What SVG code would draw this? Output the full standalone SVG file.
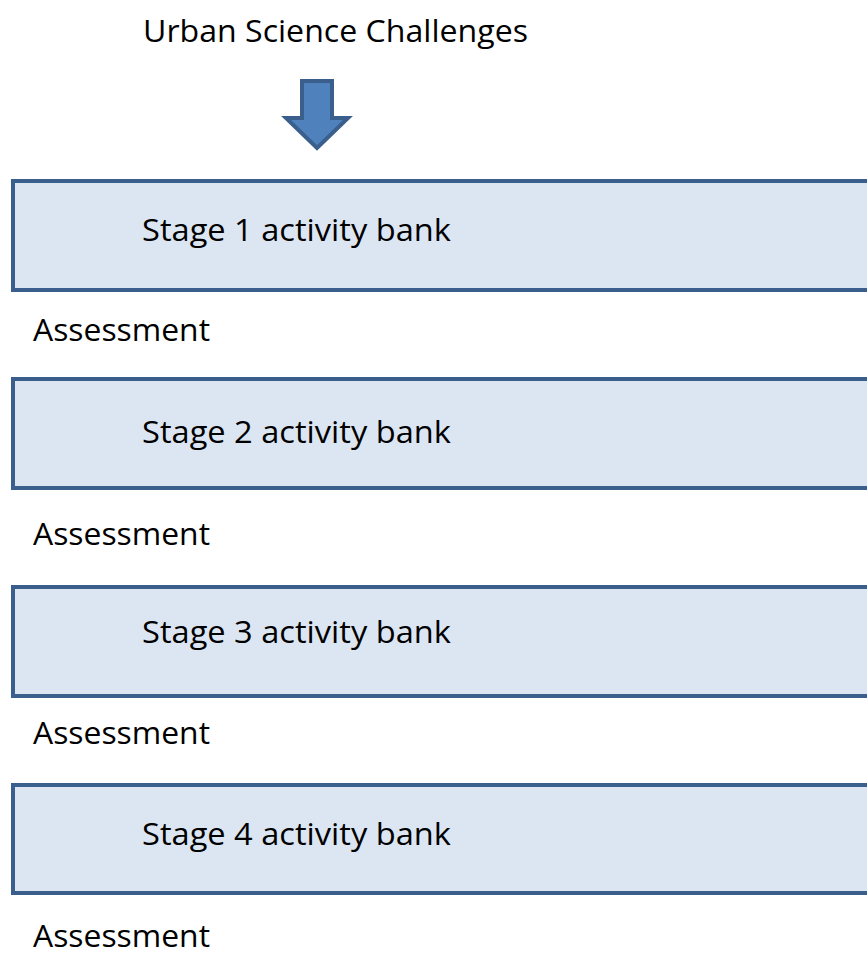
<svg xmlns="http://www.w3.org/2000/svg" width="867" height="954" viewBox="0 0 867 954">
<style>
.box{fill:#DCE6F2;stroke:#3B5F8C;stroke-width:4}
.t{font-family:"Open Sans","Liberation Sans",sans-serif;font-size:31px;fill:#000}
.arrow{fill:#4F81BD;stroke:#3B5F8C;stroke-width:4;stroke-linejoin:miter}
</style>
<rect width="867" height="954" fill="#fff"/>
<text class="t" x="143" y="42" textLength="385" lengthAdjust="spacingAndGlyphs">Urban Science Challenges</text>
<g id="connectors">
<polygon class="arrow" points="302,81 332,81 332,118 348,118 317,148 286,118 302,118"/>
</g>
<g id="stage1">
<rect class="box" x="13" y="181" width="870" height="109"/>
<text class="t" x="142" y="241" textLength="309" lengthAdjust="spacingAndGlyphs">Stage 1 activity bank</text>
</g>
<g id="assess1"><text class="t" x="33" y="341" textLength="177" lengthAdjust="spacingAndGlyphs">Assessment</text></g>
<g id="stage2">
<rect class="box" x="13" y="379" width="870" height="109"/>
<text class="t" x="142" y="443" textLength="309" lengthAdjust="spacingAndGlyphs">Stage 2 activity bank</text>
</g>
<g id="assess2"><text class="t" x="33" y="545" textLength="177" lengthAdjust="spacingAndGlyphs">Assessment</text></g>
<g id="stage3">
<rect class="box" x="13" y="587" width="870" height="109"/>
<text class="t" x="142" y="643" textLength="309" lengthAdjust="spacingAndGlyphs">Stage 3 activity bank</text>
</g>
<g id="assess3"><text class="t" x="33" y="744" textLength="177" lengthAdjust="spacingAndGlyphs">Assessment</text></g>
<g id="stage4">
<rect class="box" x="13" y="785" width="870" height="108"/>
<text class="t" x="142" y="845" textLength="309" lengthAdjust="spacingAndGlyphs">Stage 4 activity bank</text>
</g>
<g id="assess4"><text class="t" x="33" y="947" textLength="177" lengthAdjust="spacingAndGlyphs">Assessment</text></g>
</svg>
